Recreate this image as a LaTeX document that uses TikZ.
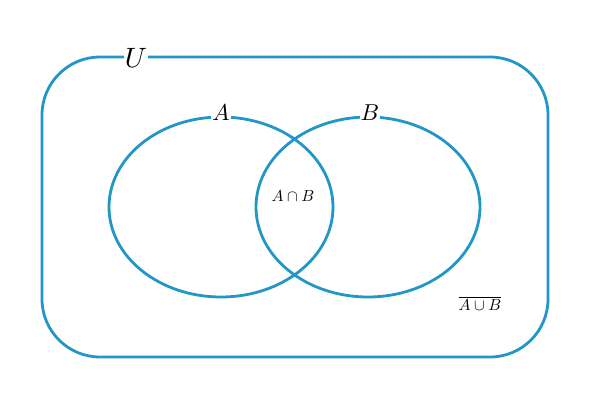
\documentclass[tikz,border=0pt]{standalone}
\begin{document}
\begin{tikzpicture}[x=1pt,y=-1pt,
  ln/.style={draw={rgb,255:red,33;green,150;blue,199},line width=2.8pt},
  lab/.style={fill=white,inner sep=1pt}]
\useasboundingbox (0,0) rectangle (590,413);
\draw[ln,rounded corners=58pt] (42,57) rectangle (548,357);
\draw[ln] (221,207) ellipse [x radius=112, y radius=90];
\draw[ln] (368,207) ellipse [x radius=112, y radius=90];
\node[lab] (U) at (136,58) {\scalebox{2.8}{$U$}};
\node[lab] (A) at (221,113) {\scalebox{2.3}{$A$}};
\node[lab] (B) at (370,113) {\scalebox{2.3}{$B$}};
\node (AB) at (293,196) {\scalebox{1.6}{$A\cap B$}};
\node (C) at (480,303) {\scalebox{1.6}{$\overline{A\cup B}$}};
\end{tikzpicture}
\end{document}
